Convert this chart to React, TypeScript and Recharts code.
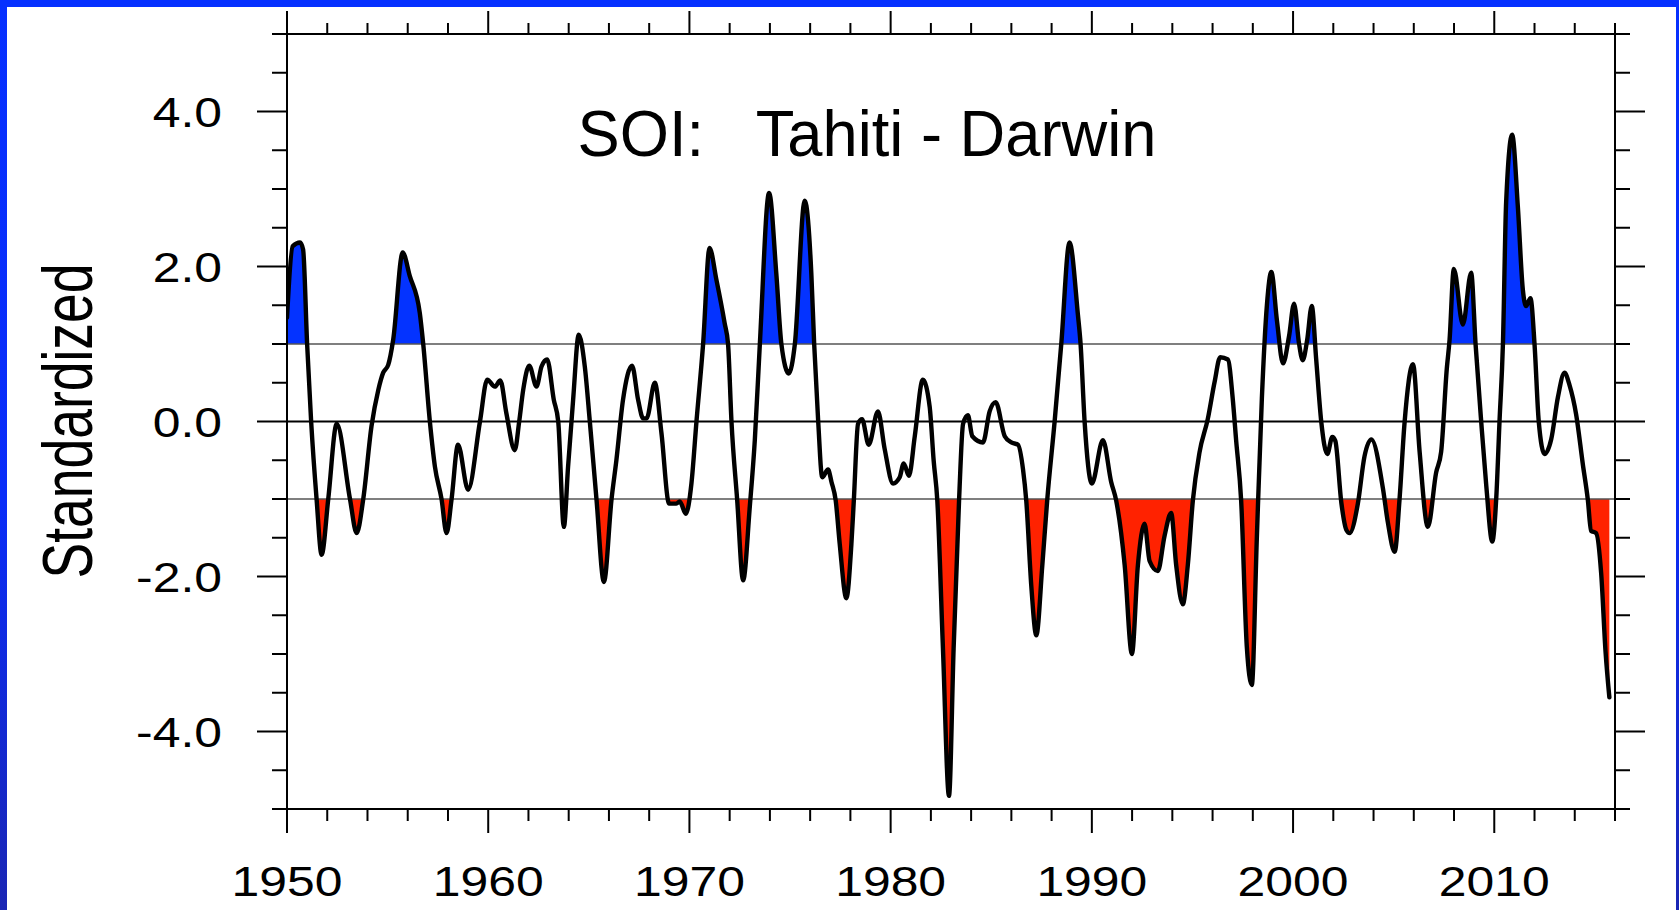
import React from "react";
import { ComposedChart, Area, Line, XAxis, YAxis, ReferenceLine } from "recharts";

const FONT = "'Liberation Sans', Arial, Helvetica, sans-serif";

// decimal year of each sample
const years = [
  1950.0, 1950.28, 1950.65, 1950.8, 1951.0, 1951.2, 1951.47, 1951.72, 1952.05, 1952.47,
  1953.13, 1953.46, 1953.79, 1954.2, 1954.54, 1954.78, 1955.03, 1955.28, 1955.75, 1956.1,
  1956.6, 1956.77, 1957.1, 1957.35, 1957.68, 1957.93, 1958.18, 1958.5, 1959.0, 1959.59,
  1959.95,
  1960.33, 1960.6, 1960.9, 1961.32, 1961.54, 1961.74, 1962.04, 1962.4, 1962.65, 1962.93,
  1963.26, 1963.48, 1963.76, 1963.97, 1964.22, 1964.5, 1964.8, 1965.05, 1965.38, 1965.75,
  1966.13, 1966.37, 1966.7, 1967.15, 1967.45, 1967.7, 1967.87, 1968.28, 1968.61, 1968.99,
  1969.35, 1969.52, 1969.82,
  1970.1, 1970.35, 1970.68, 1971.0, 1971.34, 1971.75, 1971.92, 1972.09, 1972.37, 1972.67,
  1973.0, 1973.25, 1973.5, 1973.96, 1974.32, 1974.57, 1974.94, 1975.24, 1975.73, 1976.06,
  1976.2, 1976.4, 1976.6, 1976.89, 1977.06, 1977.27, 1977.47, 1977.8, 1978.05, 1978.17,
  1978.38, 1978.58, 1978.91, 1979.37, 1979.7,
  1980.12, 1980.45, 1980.65, 1980.91, 1981.2, 1981.6, 1981.94, 1982.14, 1982.32, 1982.6,
  1982.9, 1983.13, 1983.4, 1983.6, 1983.84, 1984.06, 1984.59, 1984.92, 1985.22, 1985.67,
  1986.0, 1986.33, 1986.58, 1986.74, 1986.99, 1987.24, 1987.54, 1987.78, 1988.15, 1988.48,
  1988.89, 1989.31, 1989.44, 1989.64,
  1990.0, 1990.55, 1990.96, 1991.21, 1991.63, 1991.99, 1992.29, 1992.62, 1992.87, 1993.28,
  1993.61, 1993.94, 1994.19, 1994.52, 1994.77, 1995.02, 1995.35, 1995.76, 1996.1, 1996.38,
  1996.76, 1997.0, 1997.17, 1997.42, 1997.7, 1997.95, 1998.2, 1998.45, 1998.7, 1998.92,
  1999.2, 1999.5, 1999.8,
  2000.05, 2000.3, 2000.48, 2000.7, 2000.93, 2001.15, 2001.4, 2001.7, 2001.95, 2002.1,
  2002.4, 2002.65, 2002.81, 2003.22, 2003.55, 2003.89, 2004.47, 2004.71, 2005.05, 2005.29,
  2005.54, 2005.96, 2006.29, 2006.7, 2007.11, 2007.36, 2007.64, 2007.78, 2007.99, 2008.44,
  2008.85, 2009.07, 2009.35, 2009.6, 2009.9,
  2010.1, 2010.26, 2010.43, 2010.59, 2010.89, 2011.17, 2011.42, 2011.58, 2011.8, 2012.0,
  2012.21, 2012.5, 2012.83, 2013.16, 2013.49, 2013.74, 2014.07, 2014.4, 2014.65, 2014.81,
  2015.06, 2015.31, 2015.53, 2015.72,
];

// standardized Tahiti minus Darwin pressure
const soi = [
  1.34, 2.26, 2.31, 2.22, 1.0, 0.0, -1.0, -1.72, -1.0, -0.03,
  -1.0, -1.44, -1.0, -0.06, 0.41, 0.63, 0.73, 1.06, 2.18, 1.88,
  1.4, 1.0, 0.0, -0.58, -1.0, -1.44, -1.0, -0.3, -0.88, 0.0,
  0.54,
  0.45, 0.53, 0.11, -0.37, 0.0, 0.41, 0.72, 0.45, 0.71, 0.8,
  0.28, 0.0, -1.36, -0.58, 0.28, 1.12, 0.71, 0.0, -1.0, -2.07,
  -1.0, -0.5, 0.28, 0.72, 0.28, 0.04, 0.04, 0.5, -0.15, -1.06,
  -1.06, -1.03, -1.19,
  -0.8, 0.0, 1.0, 2.24, 1.83, 1.27, 1.0, 0.0, -1.0, -2.05,
  -1.1, -0.24, 1.0, 2.95, 1.9, 1.0, 0.62, 1.0, 2.85, 1.9,
  1.0, 0.0, -0.72, -0.62, -0.78, -1.02, -1.58, -2.28, -1.58, -1.02,
  -0.03, 0.03, -0.3, 0.13, -0.35,
  -0.8, -0.72, -0.54, -0.7, -0.19, 0.54, 0.19, -0.51, -1.02, -2.93,
  -4.83, -2.93, -1.02, -0.03, 0.08, -0.19, -0.27, 0.13, 0.25, -0.19,
  -0.27, -0.3, -0.62, -1.02, -2.12, -2.76, -1.85, -1.02, 0.0, 1.0,
  2.31, 1.37, 1.0, 0.0,
  -0.8, -0.24, -0.78, -1.02, -1.85, -3.0, -1.85, -1.32, -1.8, -1.93,
  -1.48, -1.18, -1.85, -2.36, -1.85, -1.02, -0.4, 0.03, 0.51, 0.83,
  0.8, 0.3, -0.24, -1.02, -2.9, -3.4, -1.5, 0.3, 1.5, 1.93,
  1.3, 0.75, 1.1,
  1.52, 1.0, 0.79, 1.05, 1.49, 0.8, 0.0, -0.42, -0.2, -0.25,
  -1.05, -1.4, -1.44, -1.06, -0.45, -0.23, -0.87, -1.3, -1.68, -1.01,
  -0.02, 0.74, -0.39, -1.36, -0.66, -0.39, 0.68, 1.06, 1.97, 1.25,
  1.92, 1.0, 0.0, -0.82, -1.55,
  -0.98, 0.0, 1.0, 2.83, 3.7, 2.78, 1.7, 1.49, 1.59, 1.0,
  0.0, -0.42, -0.23, 0.31, 0.63, 0.47, 0.09, -0.55, -1.01, -1.41,
  -1.44, -1.95, -2.97, -3.56,
];

const xTicks = [
  1950, 1952, 1954, 1956, 1958, 1960, 1962, 1964, 1966, 1968, 1970, 1972,
  1974, 1976, 1978, 1980, 1982, 1984, 1986, 1988, 1990, 1992, 1994, 1996,
  1998, 2000, 2002, 2004, 2006, 2008, 2010, 2012, 2014, 2016,
];
const yTicks = [
  -5, -4.5, -4, -3.5, -3, -2.5, -2, -1.5, -1, -0.5, 0,
  0.5, 1, 1.5, 2, 2.5, 3, 3.5, 4, 4.5, 5,
];

const chartTitle = "SOI:   Tahiti - Darwin";
const yTitle = "Standardized";
const threshold = 1;

const data = years.map((year, i) => ({ year, soi: soi[i] }));

// fills are clipped with hard gradient stops; the area's bounding box spans data min..max
const hi = Math.max(...soi);
const lo = Math.min(...soi);
const blueStop = (hi - threshold) / (hi - lo);
const redStop = (hi + threshold) / (hi - lo);

const BLUE = "#0433ff";
const RED = "#ff2200";
const LABEL_STRETCH = 1.16;

const BottomTick = (props: any) => {
  const { x, y, payload } = props;
  const major = payload.value % 10 === 0;
  return (
    <g>
      <line x1={x} x2={x} y1={y} y2={y + (major ? 24 : 12)} stroke="#000" strokeWidth={2} />
      {major && (
        <text
          transform={`translate(${x},${y + 87}) scale(${LABEL_STRETCH},1)`}
          textAnchor="middle"
          fontSize={43}
          fontFamily={FONT}
          fill="#000"
        >
          {payload.value}
        </text>
      )}
    </g>
  );
};

const TopTick = (props: any) => {
  const { x, y, payload } = props;
  const major = payload.value % 10 === 0;
  return <line x1={x} x2={x} y1={y} y2={y - (major ? 23 : 11)} stroke="#000" strokeWidth={2} />;
};

const LeftTick = (props: any) => {
  const { x, y, payload } = props;
  const major = payload.value % 2 === 0;
  return (
    <g>
      <line x1={x} x2={x - (major ? 30 : 15)} y1={y} y2={y} stroke="#000" strokeWidth={2} />
      {major && (
        <text
          transform={`translate(${x - 65},${y + 15.5}) scale(${LABEL_STRETCH},1)`}
          textAnchor="end"
          fontSize={43}
          fontFamily={FONT}
          fill="#000"
        >
          {payload.value.toFixed(1)}
        </text>
      )}
    </g>
  );
};

const RightTick = (props: any) => {
  const { x, y, payload } = props;
  const major = payload.value % 2 === 0;
  return <line x1={x} x2={x + (major ? 30 : 15)} y1={y} y2={y} stroke="#000" strokeWidth={2} />;
};

const axisLine = { stroke: "#000", strokeWidth: 2 };

export default function App() {
  return (
    <div
      style={{
        position: "absolute",
        left: 0,
        top: 0,
        width: 1679,
        height: 910,
        background: "linear-gradient(to bottom, #0630ff 0%, #0a2df8 55%, #1a26b4 100%)",
      }}
    >
      <div style={{ position: "absolute", left: 7, top: 7, right: 3, bottom: 0, background: "#fff" }} />
      <div style={{ position: "absolute", left: 0, top: 0 }}>
        <ComposedChart
          width={1679}
          height={910}
          data={data}
          margin={{ top: 4, right: 24, bottom: 41, left: 187 }}
        >
          <defs>
            <linearGradient id="soiBlue" x1="0" y1="0" x2="0" y2="1">
              <stop offset={0} stopColor={BLUE} />
              <stop offset={blueStop} stopColor={BLUE} />
              <stop offset={blueStop} stopColor={BLUE} stopOpacity={0} />
              <stop offset={1} stopColor={BLUE} stopOpacity={0} />
            </linearGradient>
            <linearGradient id="soiRed" x1="0" y1="0" x2="0" y2="1">
              <stop offset={0} stopColor={RED} stopOpacity={0} />
              <stop offset={redStop} stopColor={RED} stopOpacity={0} />
              <stop offset={redStop} stopColor={RED} />
              <stop offset={1} stopColor={RED} />
            </linearGradient>
          </defs>
          <XAxis
            dataKey="year"
            type="number"
            domain={[1950, 2016]}
            ticks={xTicks}
            interval={0}
            allowDataOverflow
            height={60}
            tickSize={0}
            tickMargin={0}
            axisLine={axisLine}
            tick={(p: any) => <BottomTick {...p} />}
          />
          <XAxis
            xAxisId="top"
            orientation="top"
            dataKey="year"
            type="number"
            domain={[1950, 2016]}
            ticks={xTicks}
            interval={0}
            allowDataOverflow
            height={30}
            tickSize={0}
            tickMargin={0}
            axisLine={axisLine}
            tick={(p: any) => <TopTick {...p} />}
          />
          <YAxis
            type="number"
            domain={[-5, 5]}
            ticks={yTicks}
            interval={0}
            allowDataOverflow
            width={100}
            tickSize={0}
            tickMargin={0}
            axisLine={axisLine}
            tick={(p: any) => <LeftTick {...p} />}
          />
          <YAxis
            yAxisId="right"
            orientation="right"
            type="number"
            domain={[-5, 5]}
            ticks={yTicks}
            interval={0}
            allowDataOverflow
            width={40}
            tickSize={0}
            tickMargin={0}
            axisLine={axisLine}
            tick={(p: any) => <RightTick {...p} />}
          />
          <ReferenceLine y={threshold} stroke="#555" strokeWidth={1.3} />
          <ReferenceLine y={-threshold} stroke="#555" strokeWidth={1.3} />
          <ReferenceLine y={0} stroke="#000" strokeWidth={2.2} />
          <Area
            dataKey="soi"
            type="monotone"
            baseValue={threshold}
            stroke="none"
            fill="url(#soiBlue)"
            fillOpacity={1}
            dot={false}
            activeDot={false}
            isAnimationActive={false}
          />
          <Area
            dataKey="soi"
            type="monotone"
            baseValue={-threshold}
            stroke="none"
            fill="url(#soiRed)"
            fillOpacity={1}
            dot={false}
            activeDot={false}
            isAnimationActive={false}
          />
          <Line
            dataKey="soi"
            type="monotone"
            stroke="#000"
            strokeWidth={4.4}
            strokeLinejoin="round"
            strokeLinecap="round"
            dot={false}
            activeDot={false}
            isAnimationActive={false}
          />
        </ComposedChart>
      </div>
      <svg
        width={1679}
        height={910}
        style={{ position: "absolute", left: 0, top: 0, pointerEvents: "none" }}
      >
        <text
          x={867}
          y={156}
          textAnchor="middle"
          fontSize={64}
          fontFamily={FONT}
          fill="#000"
          textLength={579}
          lengthAdjust="spacingAndGlyphs"
          style={{ whiteSpace: "pre" }}
        >
          {chartTitle}
        </text>
        <text
          transform="translate(92,421) rotate(-90)"
          textAnchor="middle"
          fontSize={70}
          fontFamily={FONT}
          fill="#000"
          textLength={315}
          lengthAdjust="spacingAndGlyphs"
        >
          {yTitle}
        </text>
      </svg>
    </div>
  );
}
